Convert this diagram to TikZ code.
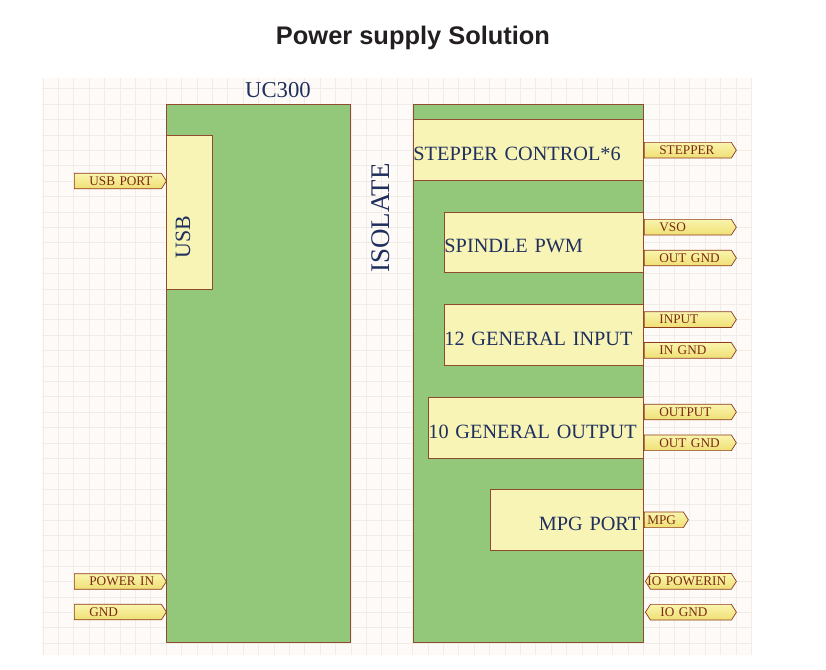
\documentclass[tikz,border=0pt]{standalone}
\usepackage{fontspec}
\setmainfont{Liberation Serif}
\newfontfamily\titlefamily{Liberation Sans}
\usetikzlibrary{positioning,calc,shapes.symbols}

\definecolor{gridbg}{HTML}{FDFAF8}
\definecolor{gridline}{HTML}{F2ECE7}
\definecolor{boardgreen}{HTML}{93C87A}
\definecolor{blockfill}{HTML}{F8F4B5}
\definecolor{blockline}{HTML}{8E4B30}
\definecolor{labelblue}{HTML}{1F2F5E}
\definecolor{porttop}{HTML}{FAF5AE}
\definecolor{portbot}{HTML}{EFDF74}
\definecolor{portline}{HTML}{8E3A1C}
\definecolor{porttext}{HTML}{7A2A12}
\definecolor{titleink}{HTML}{231F20}

\newcommand\titlefont{\titlefamily\bfseries\fontsize{21.7}{24}\selectfont}
\newcommand\blockfont{\fontsize{17.3}{20}\selectfont}
\newcommand\portfont{\fontsize{11.3}{13}\selectfont}

\begin{document}
\begin{tikzpicture}[x=0.3mm, y=-0.3mm,
  board/.style={draw=blockline, line width=0.8pt, fill=boardgreen,
    anchor=north west, inner sep=0pt, minimum height=161.4mm},
  block/.style={draw=blockline, line width=0.8pt, fill=blockfill,
    anchor=north west, inner sep=0pt, text=labelblue, font=\blockfont,
    text height=17.4pt, text depth=0pt, align=left, minimum height=18.3mm},
  bigtext/.style={text=labelblue, inner sep=0pt},
  port/.style={signal, signal to=east, signal pointer angle=115,
    draw=portline, line width=0.6pt, top color=porttop, bottom color=portbot,
    text=porttext, font=\portfont, minimum height=4.7mm, inner sep=0pt,
    anchor=west, align=left, text width=26.1mm},
  ioport/.style={port, signal to=east and west, text width=24.3mm},
  portpad/.style={execute at begin node={\hspace*{#1}}},
  gridln/.style={draw=gridline, line width=0.4pt}]
\useasboundingbox (0,0) rectangle (826,669);

% sheet grid
\fill[gridbg] (42,78) rectangle (752,655);
\begin{scope}
  \clip (42,78) rectangle (752,655);
  \foreach \i in {-8,...,38}
    \draw[gridln] ({166+15.4*\i},78) -- ({166+15.4*\i},655);
  \foreach \j in {-2,...,36}
    \draw[gridln] (42,{104+15.4*\j}) -- (752,{104+15.4*\j});
\end{scope}

\node[font=\titlefont, text=titleink] (title) at (413,37.5) {Power supply Solution};

% controller side
\node[board, minimum width=55.2mm] (uc) at (166,104) {};
\node[block, minimum width=13.8mm, minimum height=46.2mm] (usb) at (166,135) {};
\node[bigtext, font=\fontsize{19.4}{22}\selectfont] (uclbl) at (278,90) {UC300};
\node[bigtext, rotate=90, font=\fontsize{18.7}{22}\selectfont] (usblbl) at (183,237) {USB};

% isolated side
\node[board, minimum width=69mm] (iso) at (413,104) {};
\node[bigtext, rotate=90, font=\fontsize{23}{26}\selectfont] (isolbl) at (381,218) {ISOLATE};
\node[block, text width=69mm] (stp) at (413,119) {STEPPER CONTROL*6};
\node[block, text width=59.7mm, minimum height=18mm] (spd) at (444,212) {SPINDLE PWM};
\node[block, text width=59.7mm] (inp) at (444,304) {12 GENERAL INPUT};
\node[block, text width=64.5mm] (outp) at (428,397) {10 GENERAL OUTPUT};
\node[block, text width=43.9mm, minimum width=45.9mm, align=right] (mpg) at (490,489) {MPG PORT};

% ports
\node[port, portpad=4.5mm] (usbport) at (74,181) {USB PORT};
\node[port, portpad=4.5mm] (pwrin) at (74,581.5) {POWER IN};
\node[port, portpad=4.5mm] (gnd) at (74,612) {GND};
\node[port, portpad=4.5mm] (stepper) at (644,150.2) {STEPPER};
\node[port, portpad=4.5mm] (vso) at (644,227.2) {VSO};
\node[port, portpad=4.5mm] (outgnda) at (644,258) {OUT GND};
\node[port, portpad=4.5mm] (input) at (644,319.6) {INPUT};
\node[port, portpad=4.5mm] (ingnd) at (644,350.4) {IN GND};
\node[port, portpad=4.5mm] (output) at (644,412) {OUTPUT};
\node[port, portpad=4.5mm] (outgndb) at (644,442.8) {OUT GND};
\node[port, portpad=0.9mm, text width=11.7mm] (mpgport) at (644,519.8) {MPG};
\node[ioport, portpad=-0.9mm] (iopwr) at (645,581.4) {IO POWERIN};
\node[ioport, portpad=3mm] (iognd) at (645,612.2) {IO GND};
\end{tikzpicture}
\end{document}
